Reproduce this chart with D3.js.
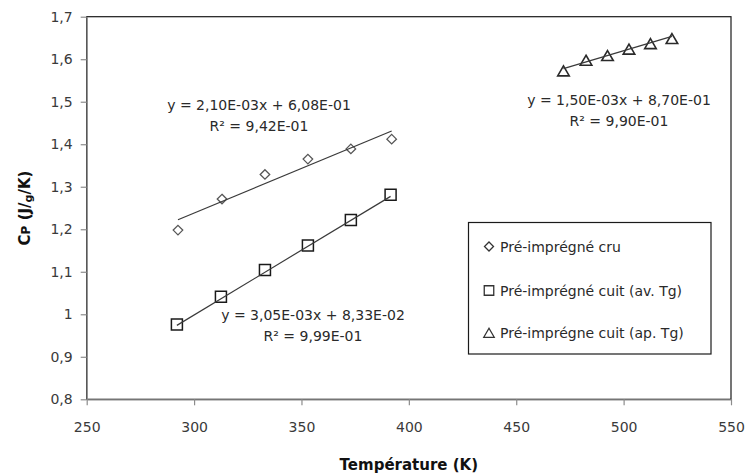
<!DOCTYPE html>
<html>
<head>
<meta charset="utf-8">
<script src="https://cdn.jsdelivr.net/npm/d3@7"></script>
<style>
  html, body { margin: 0; padding: 0; background: #fff; }
  svg { display: block; font-family: "DejaVu Sans", sans-serif; }
</style>
</head>
<body>
<svg id="chart" width="750" height="476"></svg>
<script>
// ---- data ----
const seriesNames = ["Pré-imprégné cru", "Pré-imprégné cuit (av. Tg)", "Pré-imprégne cuit (ap. Tg)"];
const seriesSymbols = ["diamond", "square", "triangle"];

const cruT  = [292.5, 313, 333, 353, 373, 392];
const cruCp = [1.198, 1.271, 1.329, 1.365, 1.389, 1.412];

const avT  = [292, 312.5, 333, 353, 373, 391.5];
const avCp = [0.976, 1.041, 1.104, 1.162, 1.222, 1.281];

const apT  = [472, 482.5, 492.5, 502.5, 512.5, 522.5];
const apCp = [1.572, 1.597, 1.608, 1.623, 1.636, 1.648];

// trendline coefficients (slope, intercept) and their labels
const trendSlopes = [2.10e-3, 3.05e-3, 1.50e-3];
const trendIntercepts = [6.08e-1, 8.33e-2, 8.70e-1];
const eqLabels = ["y = 2,10E-03x + 6,08E-01", "y = 3,05E-03x + 8,33E-02", "y = 1,50E-03x + 8,70E-01"];
const r2Labels = ["R² = 9,42E-01", "R² = 9,99E-01", "R² = 9,90E-01"];

const xTicks = [250, 300, 350, 400, 450, 500, 550];
const yTicks = [0.8, 0.9, 1.0, 1.1, 1.2, 1.3, 1.4, 1.5, 1.6, 1.7];
const xTitle = "Température (K)";

// ---- layout ----
const L = 86.7, R = 731, T = 16.7, B = 399.3;
const svg = d3.select("#chart");
const x = d3.scaleLinear().domain([250, 550]).range([L, R]);
const y = d3.scaleLinear().domain([0.8, 1.7]).range([B, T]);
const fr = d3.formatLocale({decimal: ",", thousands: " ", grouping: [3], currency: ["", "€"]});
const fmt = fr.format("~g");

const series = [
  {T: cruT, Cp: cruCp},
  {T: avT, Cp: avCp},
  {T: apT, Cp: apCp}
];

// plot area frame
svg.append("rect").attr("x", L).attr("y", T).attr("width", R - L).attr("height", B - T)
  .attr("fill", "none").attr("stroke", "#1a1a1a").attr("stroke-width", 1.2);

// axes
const gx = svg.append("g").attr("transform", `translate(0,${B})`)
  .call(d3.axisBottom(x).tickValues(xTicks).tickFormat(d => fmt(d)).tickSize(6).tickPadding(16.5).tickSizeOuter(0));
const gy = svg.append("g").attr("transform", `translate(${L},0)`)
  .call(d3.axisLeft(y).tickValues(yTicks).tickFormat(d => fmt(d)).tickSize(6).tickPadding(8).tickSizeOuter(0));
[gx, gy].forEach(g => {
  g.select(".domain").attr("stroke", "#8c8c8c").attr("stroke-width", 1.3);
  g.selectAll(".tick line").attr("stroke", "#8c8c8c").attr("stroke-width", 1.2);
  g.selectAll(".tick text").attr("fill", "#3a3a3a").attr("font-size", 14).attr("font-family", "DejaVu Sans");
});

// symbols
function symbolPath(kind, s) {
  if (kind === "diamond") return `M0,${-s / 2}L${s / 2},0L0,${s / 2}L${-s / 2},0Z`;
  if (kind === "square") return `M${-s / 2},${-s / 2}H${s / 2}V${s / 2}H${-s / 2}Z`;
  return `M0,${-s * 0.5}L${s * 0.55},${s * 0.45}L${-s * 0.55},${s * 0.45}Z`;
}
const symSize = [9.5, 11, 10.5];
const symStroke = ["#555", "#1a1a1a", "#2a2a2a"];
const symWidth = [1.3, 1.5, 1.6];

series.forEach((s, i) => {
  const pts = s.T.map((t, j) => ({t, c: s.Cp[j]}));
  svg.append("g").selectAll("path").data(pts).join("path")
    .attr("transform", d => `translate(${x(d.t)},${y(d.c)})`)
    .attr("d", symbolPath(seriesSymbols[i], symSize[i]))
    .attr("fill", "none").attr("stroke", symStroke[i]).attr("stroke-width", symWidth[i]);
});

// trendlines
const line = d3.line().x(d => x(d[0])).y(d => y(d[1]));
series.forEach((s, i) => {
  const ext = d3.extent(s.T);
  const pts = ext.map(t => [t, trendSlopes[i] * t + trendIntercepts[i]]);
  svg.append("path").attr("d", line(pts)).attr("fill", "none")
    .attr("stroke", "#3a3a3a").attr("stroke-width", 1.2);
});

// trendline labels
const labelPos = [[259, 110], [313, 320], [619, 105]];
series.forEach((s, i) => {
  const g = svg.append("g").attr("font-size", 14).attr("fill", "#2a2a2a").attr("text-anchor", "middle");
  g.append("text").attr("x", labelPos[i][0]).attr("y", labelPos[i][1]).text(eqLabels[i]);
  g.append("text").attr("x", labelPos[i][0]).attr("y", labelPos[i][1] + 21).text(r2Labels[i]);
});

// axis titles
svg.append("text").attr("x", (L + R) / 2).attr("y", 470).attr("text-anchor", "middle")
  .attr("font-weight", "bold").attr("font-size", 15).attr("fill", "#111").text(xTitle);
const yt = svg.append("text").attr("transform", `translate(30,${(T + B) / 2}) rotate(-90)`)
  .attr("text-anchor", "middle").attr("font-weight", "bold").attr("font-size", 15).attr("fill", "#111");
yt.append("tspan").text("C");
yt.append("tspan").attr("font-size", 12).text("P");
yt.append("tspan").text(" (J/");
yt.append("tspan").attr("font-size", 11).attr("dy", 2).text("g");
yt.append("tspan").attr("dy", -2).text("/K)");

// legend
const lg = svg.append("g");
lg.append("rect").attr("x", 468.5).attr("y", 222.5).attr("width", 242.5).attr("height", 131.5)
  .attr("fill", "#fff").attr("stroke", "#1a1a1a").attr("stroke-width", 1.2);
const legY = [246.5, 290.5, 333];
seriesNames.forEach((n, i) => {
  lg.append("path").attr("transform", `translate(489,${legY[i]})`)
    .attr("d", symbolPath(seriesSymbols[i], [9, 9.5, 9.5][i]))
    .attr("fill", "none").attr("stroke", "#333").attr("stroke-width", 1.3);
  lg.append("text").attr("x", 500).attr("y", legY[i] + 5).attr("font-size", 14)
    .attr("fill", "#2a2a2a").text(n);
});
</script>
</body>
</html>
